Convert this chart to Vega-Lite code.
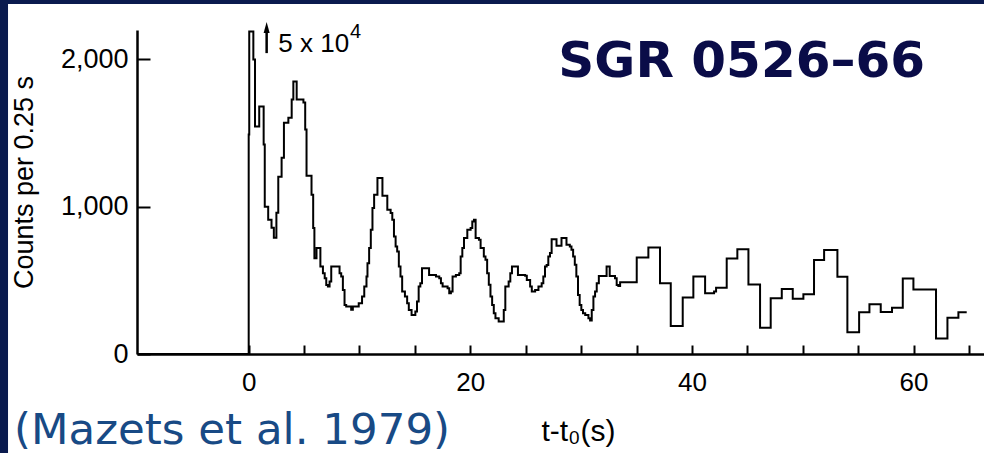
{
  "$schema": "https://vega.github.io/schema/vega-lite/v6.json",
  "width": 847,
  "height": 324,
  "autosize": {"type": "none"},
  "padding": {"left": 137, "top": 30, "right": 0, "bottom": 99},
  "background": "white",
  "config": {"view": {"stroke": null}},
  "datasets": {
    "counts": [
      {"t": -10, "c": 0}, {"t": 0, "c": 1490}, {"t": 0.05, "c": 2190}, {"t": 0.42, "c": 2000}, {"t": 0.57, "c": 1545}, {"t": 0.95, "c": 1680}, {"t": 1.35, "c": 1422}, {"t": 1.45, "c": 1000}, {"t": 1.76, "c": 912}, {"t": 2.06, "c": 857}, {"t": 2.27, "c": 789}, {"t": 2.5, "c": 959}, {"t": 2.67, "c": 1204}, {"t": 2.97, "c": 1333}, {"t": 3.18, "c": 1571}, {"t": 3.58, "c": 1605}, {"t": 3.88, "c": 1728}, {"t": 4.03, "c": 1850}, {"t": 4.33, "c": 1728}, {"t": 4.94, "c": 1707}, {"t": 5.1, "c": 1524}, {"t": 5.22, "c": 1210}, {"t": 5.67, "c": 1082}, {"t": 5.82, "c": 855}, {"t": 5.93, "c": 651}, {"t": 6.12, "c": 719}, {"t": 6.47, "c": 594}, {"t": 6.7, "c": 549}, {"t": 6.86, "c": 515}, {"t": 7.0, "c": 469}, {"t": 7.15, "c": 458}, {"t": 7.3, "c": 492}, {"t": 7.45, "c": 594}, {"t": 8.2, "c": 549}, {"t": 8.35, "c": 526}, {"t": 8.5, "c": 435}, {"t": 8.65, "c": 333}, {"t": 8.8, "c": 322}, {"t": 9.25, "c": 300}, {"t": 9.4, "c": 322}, {"t": 9.93, "c": 345}, {"t": 10.23, "c": 390}, {"t": 10.43, "c": 458}, {"t": 10.63, "c": 526}, {"t": 10.72, "c": 617}, {"t": 10.87, "c": 719}, {"t": 11.02, "c": 844}, {"t": 11.17, "c": 991}, {"t": 11.32, "c": 1082}, {"t": 11.62, "c": 1195}, {"t": 12.07, "c": 1075}, {"t": 12.51, "c": 980}, {"t": 12.81, "c": 957}, {"t": 12.96, "c": 912}, {"t": 13.11, "c": 798}, {"t": 13.26, "c": 730}, {"t": 13.4, "c": 696}, {"t": 13.55, "c": 594}, {"t": 13.7, "c": 526}, {"t": 13.85, "c": 424}, {"t": 14.1, "c": 390}, {"t": 14.3, "c": 345}, {"t": 14.45, "c": 299}, {"t": 14.7, "c": 265}, {"t": 15.04, "c": 288}, {"t": 15.19, "c": 356}, {"t": 15.34, "c": 458}, {"t": 15.49, "c": 481}, {"t": 15.64, "c": 583}, {"t": 16.28, "c": 537}, {"t": 16.9, "c": 526}, {"t": 17.2, "c": 515}, {"t": 17.35, "c": 481}, {"t": 17.5, "c": 458}, {"t": 17.95, "c": 447}, {"t": 18.1, "c": 413}, {"t": 18.25, "c": 424}, {"t": 18.4, "c": 526}, {"t": 18.7, "c": 537}, {"t": 19.0, "c": 549}, {"t": 19.13, "c": 662}, {"t": 19.28, "c": 719}, {"t": 19.43, "c": 787}, {"t": 19.73, "c": 844}, {"t": 20.03, "c": 855}, {"t": 20.18, "c": 900}, {"t": 20.33, "c": 912}, {"t": 20.48, "c": 787}, {"t": 20.78, "c": 776}, {"t": 20.93, "c": 719}, {"t": 21.22, "c": 662}, {"t": 21.37, "c": 640}, {"t": 21.52, "c": 549}, {"t": 21.67, "c": 470}, {"t": 21.82, "c": 390}, {"t": 21.97, "c": 333}, {"t": 22.12, "c": 277}, {"t": 22.27, "c": 243}, {"t": 22.56, "c": 220}, {"t": 23.02, "c": 299}, {"t": 23.16, "c": 458}, {"t": 23.46, "c": 492}, {"t": 23.61, "c": 549}, {"t": 23.76, "c": 594}, {"t": 24.3, "c": 537}, {"t": 24.95, "c": 531}, {"t": 25.1, "c": 503}, {"t": 25.4, "c": 458}, {"t": 25.55, "c": 424}, {"t": 25.85, "c": 435}, {"t": 26.15, "c": 458}, {"t": 26.44, "c": 481}, {"t": 26.59, "c": 526}, {"t": 26.74, "c": 594}, {"t": 26.89, "c": 605}, {"t": 27.04, "c": 662}, {"t": 27.19, "c": 685}, {"t": 27.34, "c": 780}, {"t": 27.78, "c": 735}, {"t": 28.23, "c": 787}, {"t": 28.68, "c": 742}, {"t": 28.98, "c": 730}, {"t": 29.13, "c": 708}, {"t": 29.28, "c": 662}, {"t": 29.43, "c": 606}, {"t": 29.57, "c": 526}, {"t": 29.72, "c": 401}, {"t": 29.87, "c": 333}, {"t": 30.02, "c": 299}, {"t": 30.17, "c": 277}, {"t": 30.37, "c": 265}, {"t": 30.66, "c": 243}, {"t": 30.81, "c": 227}, {"t": 30.96, "c": 299}, {"t": 31.11, "c": 390}, {"t": 31.26, "c": 424}, {"t": 31.41, "c": 481}, {"t": 31.6, "c": 530}, {"t": 32.3, "c": 594}, {"t": 32.58, "c": 530}, {"t": 33.06, "c": 515}, {"t": 33.21, "c": 469}, {"t": 33.36, "c": 462}, {"t": 33.52, "c": 488}, {"t": 35.02, "c": 655}, {"t": 36.07, "c": 723}, {"t": 37.12, "c": 481}, {"t": 38.09, "c": 190}, {"t": 39.17, "c": 383}, {"t": 40.13, "c": 526}, {"t": 41.19, "c": 413}, {"t": 42.0, "c": 424}, {"t": 42.18, "c": 450}, {"t": 43.14, "c": 648}, {"t": 44.1, "c": 712}, {"t": 45.1, "c": 472}, {"t": 46.15, "c": 179}, {"t": 47.11, "c": 379}, {"t": 48.11, "c": 442}, {"t": 49.1, "c": 376}, {"t": 50.06, "c": 406}, {"t": 51.02, "c": 639}, {"t": 51.93, "c": 707}, {"t": 53.13, "c": 524}, {"t": 54.03, "c": 147}, {"t": 55.09, "c": 283}, {"t": 56.02, "c": 338}, {"t": 57.04, "c": 285}, {"t": 58.06, "c": 314}, {"t": 59.03, "c": 512}, {"t": 59.99, "c": 438}, {"t": 62.03, "c": 106}, {"t": 63.06, "c": 246}, {"t": 64.05, "c": 283}, {"t": 64.8, "c": 283}
    ],
    "frame": [
      {"t": -22.45, "t2": -21.72, "c": -672, "c2": 2403},
      {"t": -22.45, "t2": 66.36, "c": 2376, "c2": 2403}
    ],
    "arrowShaft": [{"t": 1.62, "c": 2043, "c2": 2195}],
    "arrowHead": [{"t": 1.62, "c": 2217}],
    "note": [{"label": "5 x 10", "t": 2.67, "c": 2050}],
    "noteExp": [{"label": "4", "t": 9.14, "c": 2145}],
    "heading": [{"label": "SGR 0526–66", "t": 61.04, "c": 1880}],
    "citation": [{"label": "(Mazets et al. 1979)", "t": -21.18, "c": -611}]
  },
  "encoding": {
    "x": {
      "field": "t", "type": "quantitative",
      "scale": {"domain": [-10.08, 66.36], "nice": false, "zero": false},
      "axis": {
        "domain": true, "domainColor": "black", "domainWidth": 2.5, "grid": false,
        "values": [0, 5, 10, 15, 20, 25, 30, 35, 40, 45, 50, 55, 60, 65],
        "ticks": true, "tickSize": -9, "tickWidth": 2, "tickColor": "black", "tickOpacity": 1,
        "labelExpr": "datum.value % 20 == 0 ? format(datum.value, 'd') : ''",
        "labelFont": "Liberation Sans", "labelFontSize": 26, "labelColor": "black",
        "labelPadding": 24, "labelFlush": false, "labelOverlap": false,
        "title": "t-t₀(s)", "titleFont": "Liberation Sans", "titleFontSize": 30,
        "titleFontWeight": "normal", "titleColor": "black",
        "titleX": 441, "titleY": 86, "titleBaseline": "alphabetic", "titleAlign": "center"
      }
    },
    "y": {
      "field": "c", "type": "quantitative",
      "scale": {"domain": [0, 2200], "nice": false, "zero": false},
      "axis": {
        "domain": true, "domainColor": "black", "domainWidth": 2.5, "grid": false,
        "values": [0, 1000, 2000], "format": ",.0f",
        "ticks": true, "tickSize": -13, "tickWidth": 2, "tickColor": "black", "tickOpacity": 1,
        "labelFont": "Liberation Sans",
        "labelFontSize": 27, "labelColor": "black", "labelPadding": 22,
        "title": "Counts per 0.25 s", "titleFont": "Liberation Sans", "titleFontSize": 27,
        "titleFontWeight": "normal", "titleColor": "black", "titlePadding": 22, "titleY": 152
      }
    }
  },
  "layer": [
    {
      "data": {"name": "counts"},
      "mark": {"type": "line", "interpolate": "step-after", "color": "black", "strokeWidth": 2}
    },
    {
      "data": {"name": "frame"},
      "mark": {"type": "rect", "color": "#0a1a4e", "clip": false},
      "encoding": {
        "x2": {"field": "t2"},
        "y2": {"field": "c2"}
      }
    },
    {
      "data": {"name": "arrowShaft"},
      "mark": {"type": "rule", "color": "black", "strokeWidth": 2.5},
      "encoding": {
        "y2": {"field": "c2"}
      }
    },
    {
      "data": {"name": "arrowHead"},
      "mark": {"type": "point", "shape": "M0,-1L-0.55,1L0.55,1Z", "filled": true, "color": "black", "opacity": 1, "size": 121}
    },
    {
      "data": {"name": "note"},
      "mark": {"type": "text", "align": "left", "baseline": "alphabetic", "font": "Liberation Sans", "fontSize": 26, "color": "black"},
      "encoding": {"text": {"field": "label"}}
    },
    {
      "data": {"name": "noteExp"},
      "mark": {"type": "text", "align": "left", "baseline": "alphabetic", "font": "Liberation Sans", "fontSize": 20, "color": "black"},
      "encoding": {"text": {"field": "label"}}
    },
    {
      "data": {"name": "heading"},
      "mark": {"type": "text", "align": "right", "baseline": "alphabetic", "font": "DejaVu Sans", "fontWeight": "bold", "fontSize": 50, "color": "#0a0c48"},
      "encoding": {"text": {"field": "label"}}
    },
    {
      "data": {"name": "citation"},
      "mark": {"type": "text", "align": "left", "baseline": "alphabetic", "font": "DejaVu Sans", "fontSize": 43.5, "color": "#184a85"},
      "encoding": {"text": {"field": "label"}}
    }
  ]
}
